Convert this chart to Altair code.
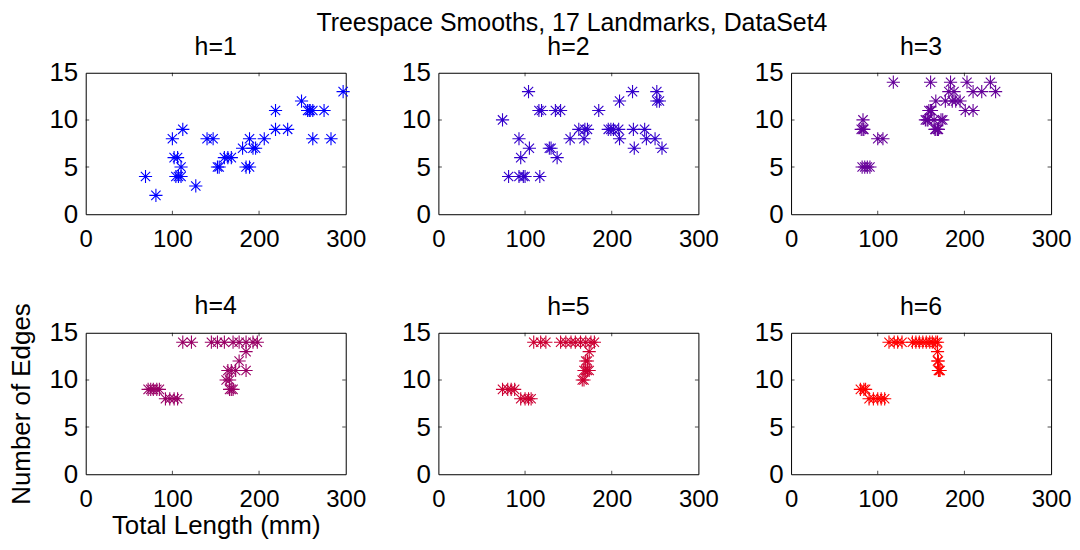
import altair as alt
import pandas as pd

# ---- data ----
h1_x = [69, 81, 100, 112, 102, 106, 110, 104, 107, 110, 127, 140, 147, 152, 154, 160, 164, 168, 181, 189, 185, 189, 193, 196, 206, 219, 219, 233, 249, 256, 259, 262, 275, 262, 283, 297, 258]
h1_y = [4, 2, 8, 9, 6, 6, 5, 4, 4, 4, 3, 8, 8, 5, 5, 6, 6, 6, 7, 8, 5, 5, 7, 7, 8, 11, 9, 9, 12, 11, 11, 11, 11, 8, 8, 13, 11]

h2_x = [74, 104, 93, 105, 95, 81, 93, 98, 100, 117, 116, 119, 135, 141, 128, 130, 137, 152, 162, 168, 169, 172, 185, 196, 199, 202, 208, 209, 209, 224, 226, 225, 238, 240, 250, 252, 255, 252, 258]
h2_y = [10, 13, 8, 7, 6, 4, 4, 4, 4, 4, 11, 11, 11, 11, 7, 7, 6, 8, 9, 8, 9, 9, 11, 9, 9, 9, 9, 8, 12, 13, 7, 9, 9, 8, 8, 13, 12, 12, 7]

h3_x = [83, 81, 83, 84, 100, 106, 82, 85, 88, 91, 118, 161, 184, 203, 230, 155, 159, 157, 162, 167, 169, 165, 175, 167, 178, 182, 188, 186, 190, 195, 201, 210, 210, 220, 236, 161, 158, 166, 170, 173]
h3_y = [10, 9, 9, 9, 8, 8, 5, 5, 5, 5, 14, 14, 14, 14, 14, 10, 11, 10, 11, 9, 9, 10, 10, 12, 12, 13, 13, 12, 12, 12, 11, 11, 13, 13, 13, 11, 10, 9, 9, 10]

h4_x = [72, 75, 78, 82, 85, 92, 97, 102, 106, 112, 122, 145, 152, 160, 170, 177, 185, 193, 198, 185, 177, 168, 173, 185, 162, 166, 168, 170, 164, 166]
h4_y = [9, 9, 9, 9, 9, 8, 8, 8, 8, 14, 14, 14, 14, 14, 14, 14, 14, 14, 14, 13, 12, 11, 11, 11, 10, 10, 9, 9, 11, 9]

h5_x = [74, 80, 84, 88, 95, 100, 104, 107, 110, 118, 124, 141, 147, 153, 158, 164, 170, 176, 180, 174, 172, 170, 168, 174, 172, 166, 168, 170]
h5_y = [9, 9, 9, 9, 8, 8, 8, 8, 14, 14, 14, 14, 14, 14, 14, 14, 14, 14, 14, 13, 12, 12, 11, 11, 11, 10, 10, 11]

h6_x = [80, 84, 86, 90, 95, 100, 104, 108, 113, 119, 123, 128, 140, 144, 148, 152, 156, 160, 163, 167, 169, 169, 170, 171, 170, 172, 169]
h6_y = [9, 9, 9, 8, 8, 8, 8, 8, 14, 14, 14, 14, 14, 14, 14, 14, 14, 14, 14, 14, 13, 12, 12, 11, 11, 11, 14]

series_x = [h1_x, h2_x, h3_x, h4_x, h5_x, h6_x]
series_y = [h1_y, h2_y, h3_y, h4_y, h5_y, h6_y]
colors = ["#0000ff", "#3300cc", "#660099", "#990066", "#cc0033", "#ff0000"]

x_ticks = [0, 100, 200, 300]
y_ticks = [0, 5, 10, 15]
x_inner = [100, 200]
y_inner = [5, 10]

title_text = "Treespace Smooths, 17 Landmarks, DataSet4"
x_title = "Total Length (mm)"
y_title = "Number of Edges"

STAR = "M-1,0L1,0M0,-1L0,1M-0.707,-0.707L0.707,0.707M-0.707,0.707L0.707,-0.707"
FONT = "Liberation Sans"
W, H = 261, 142

xscale = alt.Scale(domain=[0, 300], nice=False, zero=False)
yscale = alt.Scale(domain=[0, 15], nice=False, zero=False)

xt_df = pd.DataFrame({"x": x_inner})
yt_df = pd.DataFrame({"y": y_inner})


def panel(i):
    df = pd.DataFrame({"x": series_x[i], "y": series_y[i]})
    xax = alt.Axis(values=x_ticks, tickSize=0, domain=False, grid=False,
                   labelFontSize=24, labelFont=FONT, labelColor="black",
                   labelPadding=13, labelFlush=False,
                   title=x_title if i == 3 else None,
                   titleFontSize=26, titleFont=FONT, titleFontWeight="normal",
                   titleColor="black", titlePadding=1)
    yax = alt.Axis(values=y_ticks, tickSize=0, domain=False, grid=False,
                   labelFontSize=26, labelFont=FONT, labelColor="black",
                   labelPadding=8, labelFlush=False,
                   title=y_title if i == 3 else None,
                   titleFontSize=26, titleFont=FONT, titleFontWeight="normal",
                   titleColor="black", titlePadding=14)
    pts = alt.Chart(df).mark_point(
        shape=STAR, filled=False, size=175, strokeWidth=1.1,
        color=colors[i], opacity=1
    ).encode(
        x=alt.X("x:Q", scale=xscale, axis=xax),
        y=alt.Y("y:Q", scale=yscale, axis=yax),
    )
    tick_b = alt.Chart(xt_df).mark_tick(color="black", size=7, thickness=1, clip=True,
                                        orient="vertical").encode(
        x=alt.X("x:Q", scale=xscale), y=alt.value(H))
    tick_t = alt.Chart(xt_df).mark_tick(color="black", size=7, thickness=1, clip=True,
                                        orient="vertical").encode(
        x=alt.X("x:Q", scale=xscale), y=alt.value(0))
    tick_l = alt.Chart(yt_df).mark_tick(color="black", size=7, thickness=1, clip=True,
                                        orient="horizontal").encode(
        y=alt.Y("y:Q", scale=yscale), x=alt.value(0))
    tick_r = alt.Chart(yt_df).mark_tick(color="black", size=7, thickness=1, clip=True,
                                        orient="horizontal").encode(
        y=alt.Y("y:Q", scale=yscale), x=alt.value(W))
    off = -36 if i == 3 else -20
    return alt.layer(pts, tick_b, tick_t, tick_l, tick_r).properties(
        width=W, height=H,
        title=alt.TitleParams(f"h={i + 1}", fontSize=25, font=FONT,
                              fontWeight="normal", color="black",
                              baseline="alphabetic", offset=off, anchor="middle"),
    )


chart = alt.concat(*[panel(i) for i in range(6)], columns=3,
                   spacing={"row": 119, "column": 93}, bounds="flush").properties(
    title=alt.TitleParams(title_text, fontSize=25, font=FONT, fontWeight="normal",
                          color="black", anchor="middle", baseline="alphabetic",
                          offset=-22, dx=32),
    padding={"left": 0, "top": 2, "right": 0, "bottom": 0},
    background="white",
).configure_view(stroke="black", strokeWidth=1)

chart.save("out.html", embed_options={"renderer": "svg", "actions": False})
